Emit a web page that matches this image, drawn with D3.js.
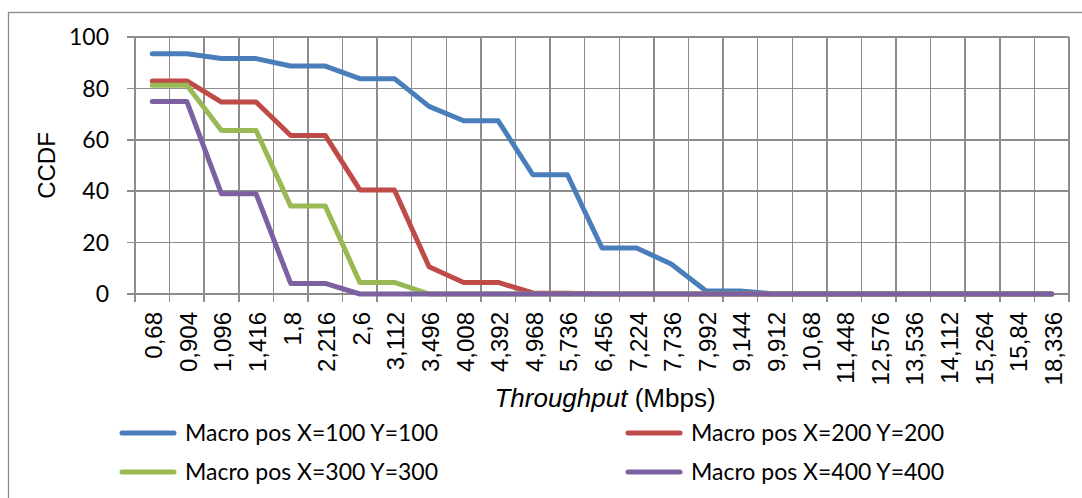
<!DOCTYPE html>
<html>
<head>
<meta charset="utf-8">
<script src="https://cdn.jsdelivr.net/npm/d3@7"></script>
<style>
  body { margin: 0; background: #fff; }
  svg { display: block; }
  .grid line { stroke: #8c8c8c; stroke-width: 1.5; shape-rendering: crispEdges; }
  .ytick { font-family: Lato, "Open Sans", sans-serif; font-size: 23px; fill: #000; }
  .xtick { font-family: "Liberation Sans", Arial, sans-serif; font-size: 24px; fill: #000; }
  .title { font-family: "Liberation Sans", Arial, sans-serif; font-size: 24px; fill: #000; }
  .legend text { font-family: Lato, "Open Sans", sans-serif; font-size: 23px; fill: #000; }
</style>
</head>
<body>
<div id="chart"></div>
<script>
// throughput categories (Mbps)
const categories = ["0,68", "0,904", "1,096", "1,416", "1,8", "2,216", "2,6", "3,112", "3,496",
    "4,008", "4,392", "4,968", "5,736", "6,456", "7,224", "7,736", "7,992", "9,144", "9,912",
    "10,68", "11,448", "12,576", "13,536", "14,112", "15,264", "15,84", "18,336"];

// CCDF values per macro position
const pos100 = [93.5, 93.5, 91.6, 91.6, 88.7, 88.7, 83.8, 83.8, 73.0, 67.4, 67.4, 46.4, 46.4,
    17.9, 17.9, 11.7, 1.3, 1.2, 0, 0, 0, 0, 0, 0, 0, 0, 0];
const pos200 = [82.9, 82.9, 74.7, 74.7, 61.7, 61.7, 40.5, 40.5, 10.6, 4.5, 4.5, 0.4, 0.3,
    0, 0, 0, 0, 0, 0, 0, 0, 0, 0, 0, 0, 0, 0];
const pos300 = [81.2, 81.2, 63.6, 63.6, 34.2, 34.2, 4.5, 4.5, 0, 0, 0, 0, 0,
    0, 0, 0, 0, 0, 0, 0, 0, 0, 0, 0, 0, 0, 0];
const pos400 = [74.9, 74.9, 39.0, 39.0, 4.1, 4.1, 0, 0, 0, 0, 0, 0, 0,
    0, 0, 0, 0, 0, 0, 0, 0, 0, 0, 0, 0, 0, 0];

const seriesNames = ["Macro pos X=100 Y=100", "Macro pos X=200 Y=200",
    "Macro pos X=300 Y=300", "Macro pos X=400 Y=400"];
const seriesColors = ["#4a7ebb", "#be4b48", "#98b954", "#7d60a0"];
const yTicks = [0, 20, 40, 60, 80, 100];

const W = 1082, H = 498;
const plot = {left: 135, right: 1069, top: 37, bottom: 294};

const svg = d3.select("#chart").append("svg")
    .attr("width", W)
    .attr("height", H);

// outer chart frame
svg.append("rect")
    .attr("x", 8.5).attr("y", 12.5)
    .attr("width", W).attr("height", H)
    .attr("fill", "none")
    .attr("stroke", "#8a8a8a")
    .attr("stroke-width", 1.3);

const x = d3.scaleBand()
    .domain(categories)
    .range([plot.left, plot.right])
    .padding(0);

const y = d3.scaleLinear()
    .domain([0, 100])
    .range([plot.bottom, plot.top]);

const grid = svg.append("g").attr("class", "grid");

// vertical gridlines at category boundaries, running past the axis as tick marks
const bounds = categories.map(c => x(c)).concat([plot.right]);
grid.selectAll(".vline")
    .data(bounds)
    .enter()
    .append("line")
        .attr("x1", d => d).attr("x2", d => d)
        .attr("y1", plot.top).attr("y2", plot.bottom + 8);

// horizontal gridlines with tick marks on the left
grid.selectAll(".hline")
    .data(yTicks)
    .enter()
    .append("line")
        .attr("x1", plot.left - 8).attr("x2", plot.right)
        .attr("y1", d => y(d)).attr("y2", d => y(d));

svg.selectAll(".ytick")
    .data(yTicks)
    .enter()
    .append("text")
        .attr("class", "ytick")
        .attr("x", plot.left - 26)
        .attr("y", d => y(d))
        .attr("dy", "0.36em")
        .attr("text-anchor", "end")
        .text(d => d);

svg.selectAll(".xtick")
    .data(categories)
    .enter()
    .append("text")
        .attr("class", "xtick")
        .attr("transform", d => `translate(${x(d) + x.bandwidth() / 2 + 10},${plot.bottom + 18}) rotate(-90)`)
        .attr("text-anchor", "end")
        .text(d => d);

// series lines
const line = d3.line()
    .x((d, i) => x(categories[i]) + x.bandwidth() / 2)
    .y(d => y(d));

const allSeries = [pos100, pos200, pos300, pos400];
svg.append("g").selectAll("path")
    .data(allSeries)
    .enter()
    .append("path")
        .attr("d", line)
        .attr("fill", "none")
        .attr("stroke", (d, i) => seriesColors[i])
        .attr("stroke-width", 5)
        .attr("stroke-linejoin", "round")
        .attr("stroke-linecap", "round");

// axis titles
svg.append("text")
    .attr("class", "title")
    .attr("transform", `translate(55,${(plot.top + plot.bottom) / 2}) rotate(-90)`)
    .attr("text-anchor", "middle")
    .text("CCDF");

const xt = svg.append("text")
    .attr("class", "title")
    .attr("x", 605)
    .attr("y", 407)
    .style("font-size", "26px")
    .attr("text-anchor", "middle");
xt.append("tspan").attr("font-style", "italic").text("Throughput");
xt.append("tspan").text(" (Mbps)");

// legend, two columns
const legendPos = [[122, 433], [628, 433], [122, 472], [628, 472]];
const legend = svg.append("g").attr("class", "legend");
const items = legend.selectAll("g")
    .data(seriesNames)
    .enter()
    .append("g")
        .attr("transform", (d, i) => `translate(${legendPos[i][0]},${legendPos[i][1]})`);
items.append("line")
    .attr("x1", 0).attr("x2", 52)
    .attr("stroke", (d, i) => seriesColors[i])
    .attr("stroke-width", 5)
    .attr("stroke-linecap", "round");
items.append("text")
    .attr("x", 63)
    .attr("dy", "0.36em")
    .text(d => d);
</script>
</body>
</html>
